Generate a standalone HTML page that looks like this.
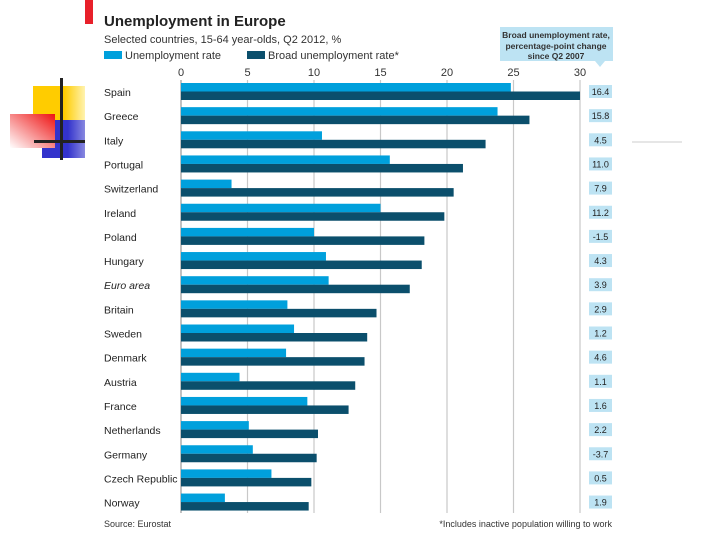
<!DOCTYPE html>
<html><head><meta charset="utf-8"><style>
body{margin:0;background:#fff;width:720px;height:540px;overflow:hidden;font-family:"Liberation Sans",sans-serif;}
svg{display:block}
</style></head><body>
<svg id="c" width="720" height="540">
  <defs>
    <linearGradient id="yg" x1="0" x2="1"><stop offset="0.6" stop-color="#ffcc00"/><stop offset="1" stop-color="#fff3b0"/></linearGradient>
    <linearGradient id="bg" x1="0" x2="1"><stop offset="0.6" stop-color="#3333cc"/><stop offset="1" stop-color="#8888e0"/></linearGradient>
    <linearGradient id="rg" x1="1" y1="0" x2="0" y2="1"><stop offset="0" stop-color="#ee1111"/><stop offset="1" stop-color="#ffffff"/></linearGradient>
  </defs>
  <g>
    <rect x="33" y="86" width="52" height="34" fill="url(#yg)"/>
    <rect x="42" y="120" width="43" height="38" fill="url(#bg)"/>
    <rect x="10" y="114" width="45" height="34" fill="url(#rg)"/>
    <rect x="60" y="78" width="3" height="82" fill="#222"/>
    <rect x="34" y="140" width="51" height="3" fill="#222"/>
    <rect x="85" y="0" width="8" height="24" fill="#e8202a"/>
    <rect x="632" y="141" width="50" height="2" fill="#e6e6e6"/>
  </g>
  <text x="104" y="26" font-size="15" font-weight="bold" fill="#222">Unemployment in Europe</text>
  <text x="104" y="43" font-size="11" fill="#333">Selected countries, 15-64 year-olds, Q2 2012, %</text>
  <g>
    <rect x="104" y="51" width="18" height="8" fill="#00a0dc"/>
    <text x="125" y="59" font-size="11" fill="#333">Unemployment rate</text>
    <rect x="247" y="51" width="18" height="8" fill="#0b4f6c"/>
    <text x="268" y="59" font-size="11" fill="#333">Broad unemployment rate*</text>
  </g>
  <g>
    <rect x="500" y="27" width="113" height="34" fill="#bde3f3"/>
    <polygon points="595,61 605,61 600,67" fill="#bde3f3"/>
    <text x="556" y="38" font-size="8.5" font-weight="bold" fill="#333" text-anchor="middle">Broad unemployment rate,</text>
    <text x="556" y="49" font-size="8.5" font-weight="bold" fill="#333" text-anchor="middle">percentage-point change</text>
    <text x="556" y="59" font-size="8.5" font-weight="bold" fill="#333" text-anchor="middle">since Q2 2007</text>
  </g>
  <g id="grid"></g>
  <g id="bars"></g>
  <text x="104" y="527" font-size="9" fill="#333">Source: Eurostat</text>
  <text x="612" y="527" font-size="9" fill="#333" text-anchor="end">*Includes inactive population willing to work</text>
</svg>
<script>
const countries=["Spain","Greece","Italy","Portugal","Switzerland","Ireland","Poland","Hungary","Euro area","Britain","Sweden","Denmark","Austria","France","Netherlands","Germany","Czech Republic","Norway"];
const unemployment=[24.8,23.8,10.6,15.7,3.8,15.0,10.0,10.9,11.1,8.0,8.5,7.9,4.4,9.5,5.1,5.4,6.8,3.3];
const broad=[30.0,26.2,22.9,21.2,20.5,19.8,18.3,18.1,17.2,14.7,14.0,13.8,13.1,12.6,10.3,10.2,9.8,9.6];
const changes=["16.4","15.8","4.5","11.0","7.9","11.2","-1.5","4.3","3.9","2.9","1.2","4.6","1.1","1.6","2.2","-3.7","0.5","1.9"];
const ticks=[0,5,10,15,20,25,30];
const NS="http://www.w3.org/2000/svg";
const x=v=>181+v*(399/30);
const rowY=i=>83+i*24.15;
function mk(t,a,p){const e=document.createElementNS(NS,t);for(const k in a)e.setAttribute(k,a[k]);p.appendChild(e);return e;}
const grid=document.getElementById('grid'),bars=document.getElementById('bars');
ticks.forEach(t=>{
  const l=mk('line',{x1:x(t),x2:x(t),y1:80,y2:513,stroke:t===0?'#999':'#c8c8c8','stroke-width':1.2},grid);
  
  
  const tx=mk('text',{x:x(t),y:76,'font-size':11,fill:'#333','text-anchor':'middle'},grid);
  tx.textContent=t;
  
  
});
countries.forEach((c,i)=>{
  const y=rowY(i);
  const lb=mk('text',{x:104,y:y+13,'font-size':10.5,fill:'#222','font-style':c==='Euro area'?'italic':'normal'},bars);
  lb.textContent=c;
  
  
  const a=mk('rect',{x:x(0),y:y,width:x(unemployment[i])-x(0),height:8.5,fill:'#00a0dc'},bars);
  
  
  const b=mk('rect',{x:x(0),y:y+8.5,width:x(broad[i])-x(0),height:8.5,fill:'#0b4f6c'},bars);
  
  
  const bx=mk('rect',{x:589,y:y+2,width:23,height:13,fill:'#bde3f3'},bars);
  
  
  const ct=mk('text',{x:600.5,y:y+12,'font-size':9,fill:'#222','text-anchor':'middle'},bars);
  ct.textContent=changes[i];
  
  
});
</script>
</body></html>
